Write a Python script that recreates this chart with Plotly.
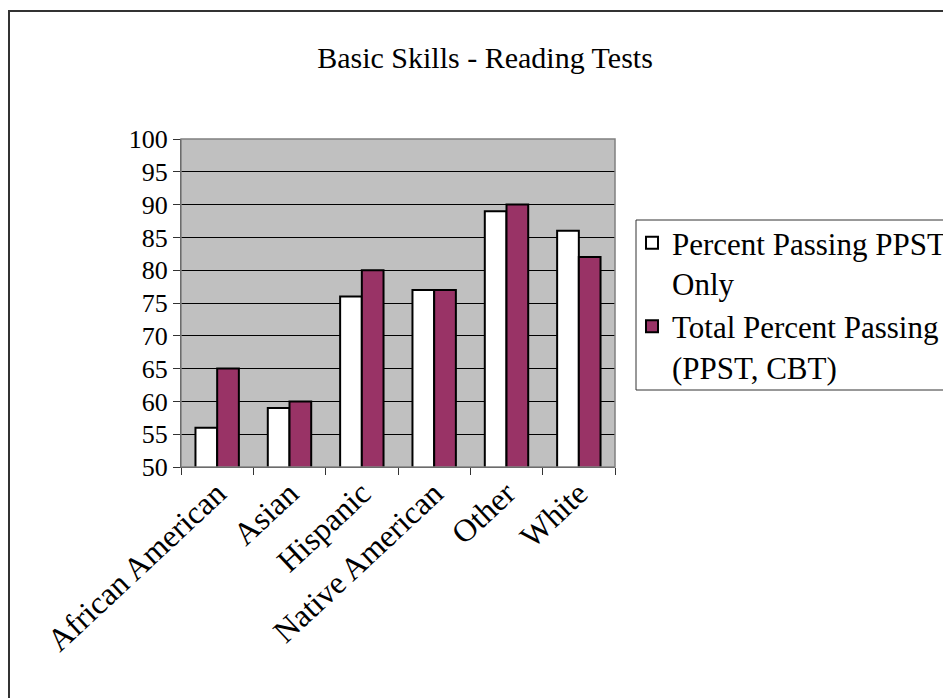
import plotly.graph_objects as go

categories = ["African American", "Asian", "Hispanic", "Native American", "Other", "White"]
ppst_only = [56, 59, 76, 77, 89, 86]
total_passing = [65, 60, 80, 77, 90, 82]
series_names = ["Percent Passing PPST<br>Only", "Total Percent Passing<br>(PPST, CBT)"]
y_ticks = list(range(50, 101, 5))

OFF = 8  # page body margin
W, H = 951 - OFF, 698 - OFF
# plot area in screen pixels
L, R, T, B = 181, 615, 139, 467
pw, ph = R - L, B - T

def px_x(px):
    return (px - L) / pw

def px_y(py):
    return (B - py) / ph

FONT = "Liberation Serif, Times New Roman, serif"

fig = go.Figure()
fig.add_trace(go.Bar(x=categories, y=ppst_only, name=series_names[0],
                     marker=dict(color="white", line=dict(color="black", width=2))))
fig.add_trace(go.Bar(x=categories, y=total_passing, name=series_names[1],
                     marker=dict(color="#993366", line=dict(color="black", width=2))))

fig.update_layout(
    width=W, height=H,
    margin=dict(l=L - OFF, r=W - (R - OFF), t=T - OFF, b=H - (B - OFF), autoexpand=False),
    paper_bgcolor="white",
    plot_bgcolor="#C0C0C0",
    barmode="group",
    bargap=0.4,
    bargroupgap=0.0,
    font=dict(family=FONT, color="black"),
    title=dict(text="Basic Skills - Reading Tests", x=(485 - OFF) / W, xanchor="center",
               y=1 - (57 - OFF) / H, yanchor="middle", yref="container",
               font=dict(size=30, family=FONT, color="black")),
    showlegend=True,
    legend=dict(x=px_x(632), y=px_y(216), xanchor="left", yanchor="top",
                font=dict(size=31, family=FONT, color="black"),
                bgcolor="rgba(0,0,0,0)", borderwidth=0, valign="top",
                tracegroupgap=6, itemwidth=30),
    xaxis=dict(showgrid=False, tickangle=-43, ticks="outside", tickson="boundaries",
               ticklen=7, tickcolor="#333333", tickwidth=1,
               showline=True, linecolor="#333333", linewidth=1,
               ticklabelstandoff=-6,
               tickfont=dict(size=32, family=FONT, color="black")),
    yaxis=dict(range=[50, 100], tickvals=y_ticks, showgrid=True, gridcolor="black", gridwidth=1,
               ticks="outside", ticklen=7, tickcolor="#333333", tickwidth=1,
               showline=True, linecolor="#333333", linewidth=1,
               zeroline=False,
               tickfont=dict(size=26, family=FONT, color="black")),
    shapes=[
        dict(type="rect", xref="paper", yref="paper", x0=0, x1=1, y0=0, y1=1,
             line=dict(color="#808080", width=1.5), layer="above"),
        dict(type="rect", xref="paper", yref="paper",
             x0=px_x(9), x1=px_x(1100), y0=px_y(900), y1=px_y(11),
             line=dict(color="#333333", width=2)),
        dict(type="rect", xref="paper", yref="paper",
             x0=px_x(636), x1=px_x(1100), y0=px_y(390), y1=px_y(220),
             line=dict(color="#333333", width=1)),
    ],
)
fig.write_html("out.html")
